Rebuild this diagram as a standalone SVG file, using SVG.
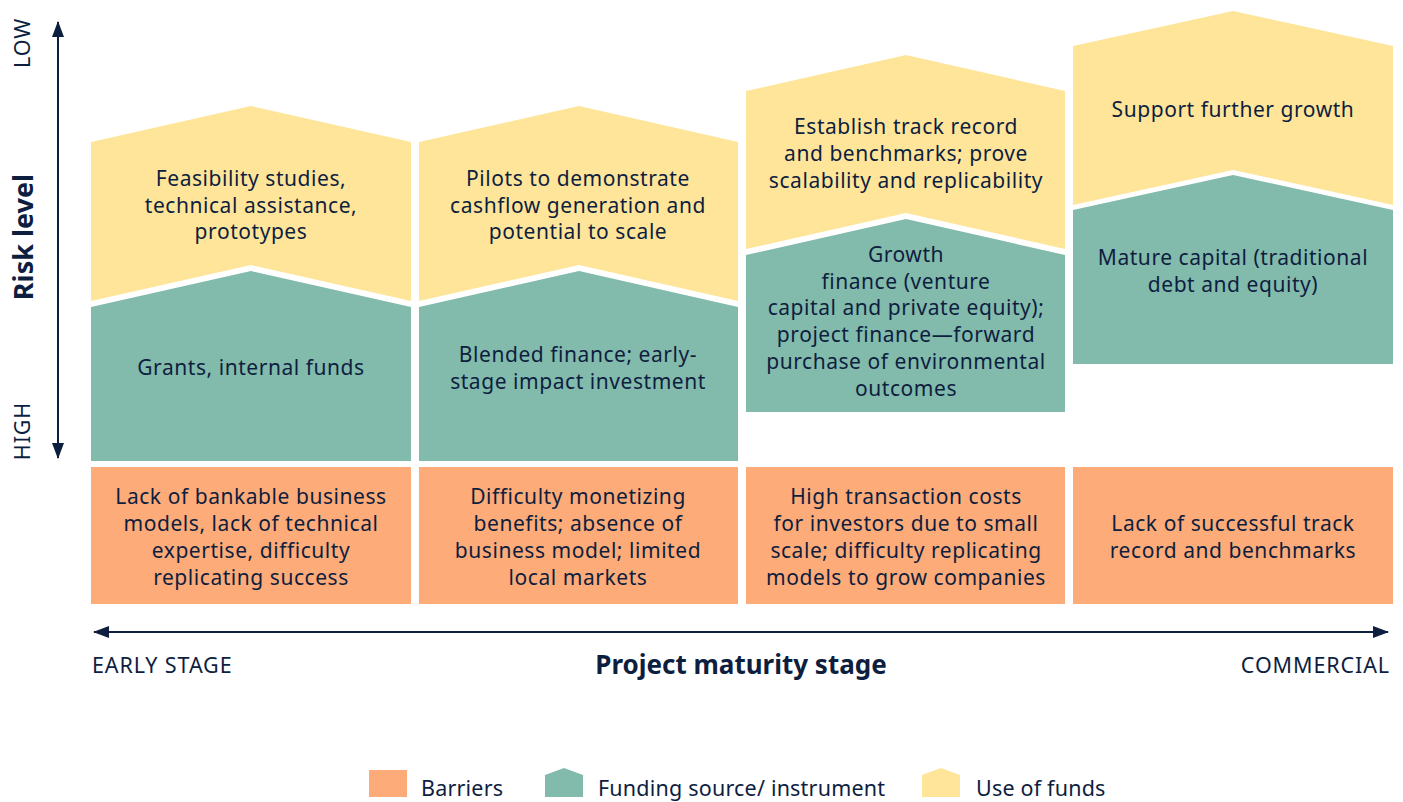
<svg xmlns="http://www.w3.org/2000/svg" width="1403" height="802" viewBox="0 0 1403 802">
<defs>
<style>
.t{font-family:"Noto Sans","Open Sans","Liberation Sans",sans-serif;font-size:21px;fill:#0E1E3F;text-anchor:middle;letter-spacing:0.55px}
.ax{font-family:"Noto Sans","Open Sans","Liberation Sans",sans-serif;font-size:21.5px;fill:#0E1E3F;letter-spacing:0.9px}
.lg{font-family:"Noto Sans","Open Sans","Liberation Sans",sans-serif;font-size:21.5px;fill:#0E1E3F;letter-spacing:0.2px}
.b{font-family:"Noto Sans","Open Sans","Liberation Sans",sans-serif;font-weight:bold;fill:#0E1E3F;text-anchor:middle}
.y{fill:#FFE599}
.g{fill:#82BAAC}
.o{fill:#FDAB78}
.ln{stroke:#0E1E3F;stroke-width:2;fill:none}
</style>
<marker id="ah" viewBox="0 0 16 12" refX="15" refY="6" markerWidth="16" markerHeight="12" markerUnits="userSpaceOnUse" orient="auto-start-reverse">
<path d="M0,0 L16,6 L0,12 Z" fill="#0E1E3F"/>
</marker>
</defs>
<rect width="1403" height="802" fill="#fff"/>

<g id="connectors">
<line class="ln" x1="58" y1="22" x2="58" y2="458" marker-start="url(#ah)" marker-end="url(#ah)"/>
<line class="ln" x1="94" y1="632" x2="1388" y2="632" marker-start="url(#ah)" marker-end="url(#ah)"/>
</g>

<g id="axis-labels">
<text class="ax" transform="translate(30,43) rotate(-90)" text-anchor="middle" font-size="19" letter-spacing="0.5">LOW</text>
<text class="ax" transform="translate(30,431) rotate(-90)" text-anchor="middle" font-size="19" letter-spacing="0.5">HIGH</text>
<text class="b" transform="translate(33,237) rotate(-90)" font-size="27">Risk level</text>
<text class="ax" x="92" y="673">EARLY STAGE</text>
<text class="ax" x="1390" y="673" text-anchor="end">COMMERCIAL</text>
<text class="b" x="741" y="674" font-size="26">Project maturity stage</text>
</g>

<g id="use-1">
<polygon class="y" points="91,142 251,106 411,142 411,301 251,265 91,301"/>
<text class="t" x="251" y="186">Feasibility studies,</text>
<text class="t" x="251" y="213">technical assistance,</text>
<text class="t" x="251" y="239">prototypes</text>
</g>
<g id="use-2">
<polygon class="y" points="419,142 579,106 738,142 738,301 579,265 419,301"/>
<text class="t" x="578" y="186">Pilots to demonstrate</text>
<text class="t" x="578" y="213">cashflow generation and</text>
<text class="t" x="578" y="239">potential to scale</text>
</g>
<g id="use-3">
<polygon class="y" points="746,91 906,55 1065,91 1065,249 906,213 746,249"/>
<text class="t" x="906" y="134">Establish track record</text>
<text class="t" x="906" y="161">and benchmarks; prove</text>
<text class="t" x="906" y="188">scalability and replicability</text>
</g>
<g id="use-4">
<polygon class="y" points="1073,46 1233,11 1393,46 1393,205 1233,170 1073,205"/>
<text class="t" x="1233" y="117">Support further growth</text>
</g>

<g id="fund-1">
<polygon class="g" points="91,307 251,271 411,307 411,461 91,461"/>
<text class="t" x="251" y="375">Grants, internal funds</text>
</g>
<g id="fund-2">
<polygon class="g" points="419,307 579,271 738,307 738,461 419,461"/>
<text class="t" x="578" y="362">Blended finance; early-</text>
<text class="t" x="578" y="389">stage impact investment</text>
</g>
<g id="fund-3">
<polygon class="g" points="746,255 906,219 1065,255 1065,412 746,412"/>
<text class="t" x="906" y="262">Growth</text>
<text class="t" x="906" y="289">finance (venture</text>
<text class="t" x="906" y="315">capital and private equity);</text>
<text class="t" x="906" y="342">project finance—forward</text>
<text class="t" x="906" y="369">purchase of environmental</text>
<text class="t" x="906" y="396">outcomes</text>
</g>
<g id="fund-4">
<polygon class="g" points="1073,210 1233,175 1393,210 1393,364 1073,364"/>
<text class="t" x="1233" y="265">Mature capital (traditional</text>
<text class="t" x="1233" y="292">debt and equity)</text>
</g>

<g id="barrier-1">
<rect class="o" x="91" y="467" width="320" height="137"/>
<text class="t" x="251" y="504">Lack of bankable business</text>
<text class="t" x="251" y="531">models, lack of technical</text>
<text class="t" x="251" y="558">expertise, difficulty</text>
<text class="t" x="251" y="585">replicating success</text>
</g>
<g id="barrier-2">
<rect class="o" x="419" y="467" width="319" height="137"/>
<text class="t" x="578" y="504">Difficulty monetizing</text>
<text class="t" x="578" y="531">benefits; absence of</text>
<text class="t" x="578" y="558">business model; limited</text>
<text class="t" x="578" y="585">local markets</text>
</g>
<g id="barrier-3">
<rect class="o" x="746" y="467" width="319" height="137"/>
<text class="t" x="906" y="504">High transaction costs</text>
<text class="t" x="906" y="531">for investors due to small</text>
<text class="t" x="906" y="558">scale; difficulty replicating</text>
<text class="t" x="906" y="585">models to grow companies</text>
</g>
<g id="barrier-4">
<rect class="o" x="1073" y="467" width="320" height="137"/>
<text class="t" x="1233" y="531">Lack of successful track</text>
<text class="t" x="1233" y="558">record and benchmarks</text>
</g>

<g id="legend">
<rect class="o" x="369" y="770" width="38" height="27"/>
<text class="lg" x="421" y="796">Barriers</text>
<polygon class="g" points="545,775 564,768 583,775 583,797 545,797"/>
<text class="lg" x="598" y="796">Funding source/ instrument</text>
<polygon class="y" points="922,775 941,768 960,775 960,797 922,797"/>
<text class="lg" x="976" y="796">Use of funds</text>
</g>
</svg>
